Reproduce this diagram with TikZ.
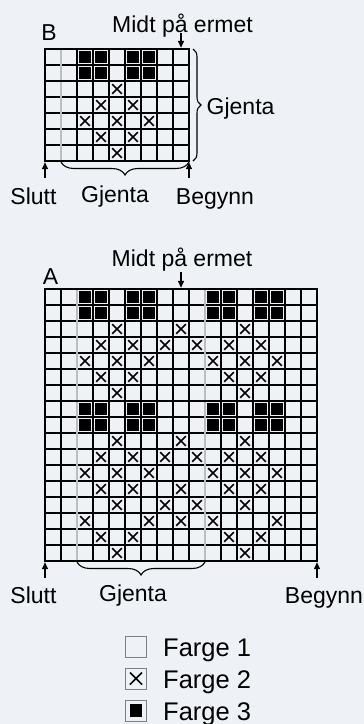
\documentclass[tikz,border=0pt]{standalone}
\usepackage{fontspec}
\setmainfont{Liberation Sans}
\usetikzlibrary{arrows.meta, decorations.pathreplacing, positioning}
\definecolor{bgpanel}{HTML}{EEF2F6}
\definecolor{repgray}{HTML}{BDBDBD}
\definecolor{keygray}{HTML}{7F7F7F}
\tikzset{
  >=latex,
  % rutenett
  cell line/.style={line width=1.1pt, black},
  mid line/.style={line width=1.9pt, black},
  frame line/.style={line width=2.7pt, black},
  rep line/.style={line width=2.4pt, repgray},
  % symboler
  cross stroke/.style={line width=1.45pt, black},
  solid cell/.style={fill=black},
  % tekst og piler
  lbl text/.style={font=\fontsize{23}{26}\selectfont, inner sep=0pt, anchor=base},
  key text/.style={font=\fontsize{25.5}{28}\selectfont, inner sep=0pt, anchor=base west},
  key box/.style={draw=keygray, line width=1pt, minimum size=21pt, inner sep=0pt},
  pointer/.style={-{Triangle[length=7pt,width=6pt]}, line width=1.3pt, shorten >=1.2pt},
  rep brace/.style={decorate, decoration={brace, amplitude=13pt, raise=1pt}, line width=1.1pt},
  side brace/.style={decorate, decoration={brace, amplitude=8pt}, line width=1.1pt}
}
% kryss og fylt rute i celle (kolonne, rad)
\newcommand{\xcell}[2]{\draw[cross stroke] ({#1-0.8},{#2-0.8}) -- ({#1-0.2},{#2-0.2}) ({#1-0.8},{#2-0.2}) -- ({#1-0.2},{#2-0.8});}
\newcommand{\solidcell}[2]{\fill[solid cell] ({#1-0.86},{#2-0.86}) rectangle ({#1-0.14},{#2-0.14});}

\begin{document}
\begin{tikzpicture}[x=1pt, y=-1pt]
  \fill[bgpanel] (0,0) rectangle (364,724);
  \useasboundingbox (0,0) rectangle (364,724);

  % --- diagram B ---
  \begin{scope}[shift={(45,49)}, x=16pt, y=-16pt]
    \foreach \i in {0,...,9} \draw[cell line] (\i,0) -- (\i,7);
    \foreach \j in {0,...,7} \draw[cell line] (0,\j) -- (9,\j);
    \foreach \c in {3,4,6,7} {\solidcell{\c}{1} \solidcell{\c}{2}}
    \foreach \r/\cols in {3/{5}, 4/{4,6}, 5/{3,5,7}, 6/{4,6}, 7/{5}}
      {\foreach \c in \cols {\xcell{\c}{\r}}}
    \draw[rep line] (1,0) -- (1,7);
    \draw[mid line] (8,0) -- (8,7) (0,2) -- (9,2);
    \draw[frame line] (0,0) rectangle (9,7);
    \coordinate (B-mid) at (8.5,0);
    \coordinate (B-ne) at (9,0);
    \coordinate (B-sw) at (0,7);
    \coordinate (B-se) at (9,7);
    \coordinate (B-rep) at (1,7);
  \end{scope}

  \node[lbl text] (nameB) at (49,40.5) {B};
  \node[lbl text] (midtB) at (182.5,32) {Midt på ermet};
  \coordinate (B-midtip) at (181,33);
  \draw[pointer] (B-midtip) -- (B-mid);
  \draw[side brace] ([xshift=4pt]B-ne) -- ([xshift=4pt]B-se);
  \node[lbl text, anchor=base west] (sideB) at (206.5,114.5) {Gjenta};
  \draw[rep brace] (B-se) -- (B-rep);
  \node[lbl text] (gjentaB) at (115,202.5) {Gjenta};
  \node[lbl text] (sluttB) at (33.5,204) {Slutt};
  \node[lbl text] (begynnB) at (215,204) {Begynn};
  \coordinate (B-slutt) at (45,178);
  \coordinate (B-begynn) at (189,178);
  \draw[pointer] (B-slutt) -- (B-sw);
  \draw[pointer] (B-begynn) -- (B-se);

  % --- diagram A ---
  \begin{scope}[shift={(45,289)}, x=16pt, y=-16pt]
    \foreach \i in {0,...,17} \draw[cell line] (\i,0) -- (\i,17) (0,\i) -- (17,\i);
    \foreach \r in {1,2,8,9}
      {\foreach \c in {3,4,6,7,11,12,14,15} {\solidcell{\c}{\r}}}
    \foreach \r/\cols in {3/{5,9,13}, 4/{4,6,8,10,12,14}, 5/{3,5,7,11,13,15},
        6/{4,6,12,14}, 7/{5,13}, 10/{5,9,13}, 11/{4,6,8,10,12,14},
        12/{3,5,7,11,13,15}, 13/{4,6,9,12,14}, 14/{5,8,10,13},
        15/{3,7,9,11,15}, 16/{4,6,12,14}, 17/{5,13}}
      {\foreach \c in \cols {\xcell{\c}{\r}}}
    \draw[rep line] (2,0) -- (2,17) (10,0) -- (10,17);
    \draw[mid line] (8,0) -- (8,17) (0,7) -- (17,7);
    \draw[frame line] (0,0) rectangle (17,17);
    \coordinate (A-mid) at (8.5,0);
    \coordinate (A-sw) at (0,17);
    \coordinate (A-se) at (17,17);
    \coordinate (A-repl) at (2,17);
    \coordinate (A-repr) at (10,17);
  \end{scope}

  \node[lbl text] (nameA) at (50.5,284) {A};
  \node[lbl text] (midtA) at (182,266.5) {Midt på ermet};
  \coordinate (A-midtip) at (181,272);
  \draw[pointer] (A-midtip) -- (A-mid);
  \draw[rep brace] (A-repr) -- (A-repl);
  \node[lbl text] (gjentaA) at (133,601) {Gjenta};
  \node[lbl text] (sluttA) at (33.5,603) {Slutt};
  \node[lbl text] (begynnA) at (324,603) {Begynn};
  \coordinate (A-slutt) at (45,578);
  \coordinate (A-begynn) at (317,578);
  \draw[pointer] (A-slutt) -- (A-sw);
  \draw[pointer] (A-begynn) -- (A-se);

  % --- tegnforklaring ---
  \node[key box] (key1) at (136,646.5) {};
  \node[key box] (key2) at (136,678.5) {};
  \node[key box] (key3) at (136,710.5) {};
  \draw[cross stroke] ([shift={(-6,-6)}]key2.center) -- ([shift={(6,6)}]key2.center)
    ([shift={(-6,6)}]key2.center) -- ([shift={(6,-6)}]key2.center);
  \fill[solid cell] ([shift={(-6.3,-6.3)}]key3.center) rectangle ([shift={(6.3,6.3)}]key3.center);
  \node[key text] (key1txt) at (163,656.5) {Farge 1};
  \node[key text] (key2txt) at (163,688.3) {Farge 2};
  \node[key text] (key3txt) at (163,720) {Farge 3};
\end{tikzpicture}
\end{document}
